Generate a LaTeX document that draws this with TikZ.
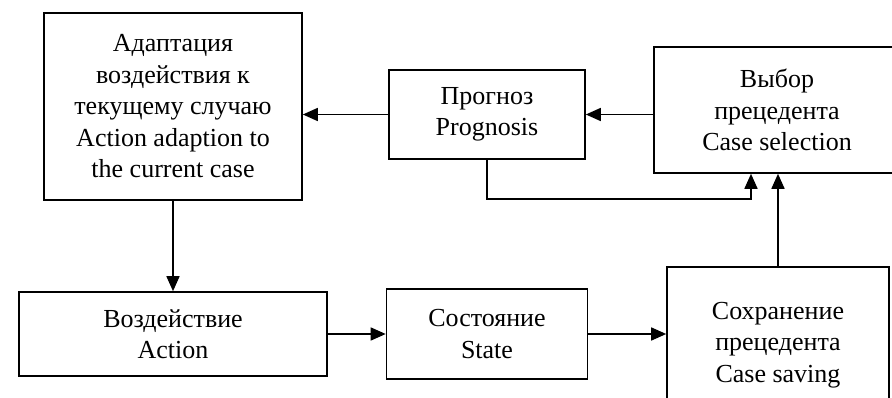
\documentclass[tikz,border=0pt]{standalone}
\usepackage{fontspec}
\setmainfont{Liberation Serif}
\usetikzlibrary{arrows.meta}

\tikzset{
  block/.style={draw, line width=1.6pt, align=center, inner sep=0pt,
    font=\fontsize{26}{31.5}\selectfont},
  link/.style={line width=1.6pt, -{Triangle[length=15pt,width=13pt]}}
}

\begin{document}
\begin{tikzpicture}[x=1pt,y=-1pt]
        \useasboundingbox (0,0) rectangle (892,398);
        \node[block, minimum width=258pt, minimum height=187pt](adapt) at (173,106.5)
            {Адаптация\\воздействия к\\текущему случаю\\Action adaption to\\the current case};
        \node[block, minimum width=196pt, minimum height=89pt](prog) at (487,114.5)
            {Прогноз\\Prognosis};
        \node[block, minimum width=246pt, minimum height=126pt](select) at (777,110)
            {Выбор\\прецедента\\Case selection};
        \node[block, minimum width=308pt, minimum height=84pt](action) at (173,334)
            {Воздействие\\Action};
        \node[block, minimum width=201pt, minimum height=90pt](state) at (487,334)
            {Состояние\\State};
        \node[block, minimum width=222pt, minimum height=156pt](saving) at (778,345)
            {Сохранение\\прецедента\\Case saving};
        \path
            (prog.west) edge [link] (prog.west -| adapt.east)
            (select.west |- prog.west) edge [link] (prog.east)
            (adapt) edge [link] (action)
            (action) edge [link] (state)
            (state.east) edge [link] (state.east -| saving.west)
            (saving.north) edge [link] (saving.north |- select.south)
            ;
        \draw[link] (prog.south) -- ++(0,39) -| ([xshift=-26pt]select.south);
    \end{tikzpicture}
\end{document}
